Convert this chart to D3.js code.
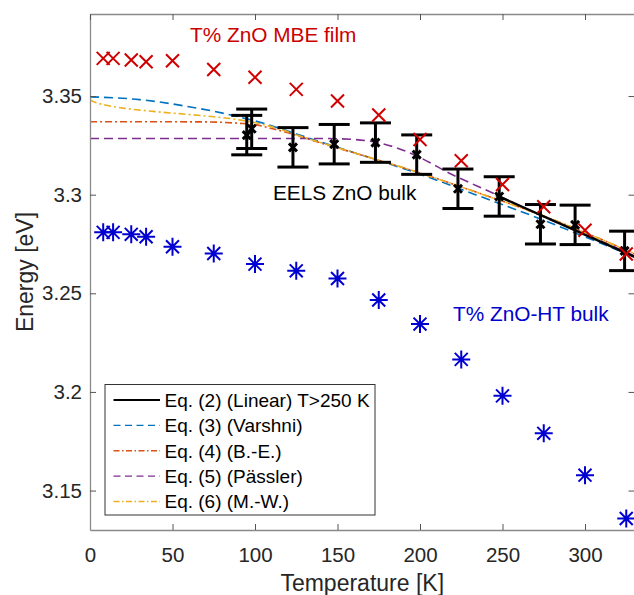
<!DOCTYPE html>
<html>
<head>
<meta charset="utf-8">
<script src="https://cdn.jsdelivr.net/npm/d3@7"></script>
<style>
  body { margin: 0; background: #fff; }
  svg { display: block; font-family: "Liberation Sans", Arial, Helvetica, sans-serif; }
</style>
</head>
<body>
<svg width="634" height="595"></svg>
<script>
// données
let tempMBE = [8, 14, 25, 34, 50, 75, 100, 125, 150, 175, 200, 225, 250, 275, 300, 325];
let energieMBE = [3.3691, 3.3691, 3.3683, 3.3674, 3.3679, 3.3635, 3.3595, 3.3534, 3.3475, 3.3404,
    3.3280, 3.3172, 3.3052, 3.2939, 3.2820, 3.2699];

let tempHT = [8, 14, 25, 34, 50, 75, 100, 125, 150, 175, 200, 225, 250, 275, 300, 325];
let energieHT = [3.2809, 3.2809, 3.2799, 3.2787, 3.2736, 3.2702, 3.2648, 3.2614, 3.2575, 3.2466,
    3.2344, 3.2165, 3.1980, 3.1790, 3.1578, 3.1358];

let tempEELS = [95, 98, 123, 148, 173, 198, 223, 248, 273, 294, 324];
let energieEELS = [3.3302, 3.3334, 3.3240, 3.3256, 3.3264, 3.3203, 3.3030, 3.2991, 3.2850, 3.2847, 3.2715];
let erreurEELS = [0.01, 0.01, 0.01, 0.01, 0.01, 0.01, 0.01, 0.01, 0.01, 0.01, 0.01];

// courbes d'ajustement (points relevés)
let tempLineaire = [246, 330];
let eLineaire = [3.2998, 3.2685];

let tempVarshni = [0, 30, 60, 90, 110, 125, 162, 200, 234, 273, 300, 330];
let eVarshni = [3.3496, 3.3482, 3.3446, 3.3395, 3.3350, 3.3308, 3.3208, 3.3104, 3.2999, 3.2877, 3.2786, 3.2685];

let tempBE = [0, 70, 90, 100, 110, 121, 140, 162, 200, 234, 273, 300, 330];
let eBE = [3.3370, 3.3369, 3.3362, 3.3355, 3.3336, 3.3311, 3.3262, 3.3207, 3.3110, 3.3013, 3.2898, 3.2808, 3.2700];

let tempPassler = [0, 140, 160, 172, 185, 197, 220, 245, 273, 300, 330];
let ePassler = [3.3285, 3.3285, 3.3280, 3.3268, 3.3240, 3.3200, 3.3100, 3.3005, 3.2895, 3.2800, 3.2690];

let tempMW = [0, 4, 10, 20, 40, 70, 90, 110, 130, 162, 200, 234, 273, 300, 330];
let eMW = [3.3480, 3.3466, 3.3453, 3.3439, 3.3421, 3.3399, 3.3380, 3.3345, 3.3290, 3.3208, 3.3110, 3.3013, 3.2898, 3.2808, 3.2700];

let ticksX = [0, 50, 100, 150, 200, 250, 300];
let ticksY = [3.15, 3.2, 3.25, 3.3, 3.35];

let legendes = ["Eq. (2) (Linear) T>250 K", "Eq. (3) (Varshni)", "Eq. (4) (B.-E.)", "Eq. (5) (Pässler)", "Eq. (6) (M.-W.)"];

// I. Entête
let svg = d3.select("svg");

let gauche = 90, droite = 634.5, haut = 14, bas = 530;

let x = d3.scaleLinear().domain([0, 330]).range([gauche, droite]);
let y = d3.scaleLinear().domain([3.13, 3.3916]).range([bas, haut]);

let couleurAxe = "#262626";

// II. Dessin

// clip de la zone du graphe
svg.append("clipPath").attr("id", "zone")
    .append("rect")
    .attr("x", gauche).attr("y", haut)
    .attr("width", droite - gauche).attr("height", bas - haut);

let graphe = svg.append("g").attr("clip-path", "url(#zone)");

let ligne = d3.line().x(d => x(d[0])).y(d => y(d[1])).curve(d3.curveMonotoneX);

let courbes = [
    { t: tempVarshni, e: eVarshni, couleur: "#0072BD", tirets: "9,5", largeur: 1.6 },
    { t: tempBE, e: eBE, couleur: "#D95319", tirets: "7,3,2,3", largeur: 1.6 },
    { t: tempPassler, e: ePassler, couleur: "#7E2F8E", tirets: "9,5", largeur: 1.6 },
    { t: tempMW, e: eMW, couleur: "#EDB120", tirets: "7,3,2,3", largeur: 1.6 },
    { t: tempLineaire, e: eLineaire, couleur: "#000000", tirets: null, largeur: 2.4 }
];

courbes.forEach(function (c) {
    graphe.append("path")
        .datum(d3.zip(c.t, c.e))
        .attr("d", ligne)
        .attr("fill", "none")
        .attr("stroke", c.couleur)
        .attr("stroke-width", c.largeur)
        .attr("stroke-dasharray", c.tirets);
});

// barres d'erreur EELS
let eels = d3.zip(tempEELS, energieEELS, erreurEELS);
let demiCapuchon = 15.5;

let barres = svg.append("g")
    .attr("stroke", "#000")
    .attr("stroke-width", 3)
    .selectAll("g")
    .data(eels)
    .enter()
    .append("g");

barres.append("line")
    .attr("x1", d => x(d[0])).attr("x2", d => x(d[0]))
    .attr("y1", d => y(d[1] + d[2])).attr("y2", d => y(d[1] - d[2]));
barres.append("line")
    .attr("x1", d => x(d[0]) - demiCapuchon).attr("x2", d => x(d[0]) + demiCapuchon)
    .attr("y1", d => y(d[1] + d[2])).attr("y2", d => y(d[1] + d[2]));
barres.append("line")
    .attr("x1", d => x(d[0]) - demiCapuchon).attr("x2", d => x(d[0]) + demiCapuchon)
    .attr("y1", d => y(d[1] - d[2])).attr("y2", d => y(d[1] - d[2]));

// Fonction pour une croix
function croix(r) {
    return "M" + (-r) + "," + (-r) + "L" + r + "," + r + "M" + (-r) + "," + r + "L" + r + "," + (-r);
}

// Fonction pour une étoile
function etoile(r) {
    let d = r * 0.72;
    return "M0," + (-r) + "V" + r + "M" + (-r) + ",0H" + r +
        "M" + (-d) + "," + (-d) + "L" + d + "," + d + "M" + (-d) + "," + d + "L" + d + "," + (-d);
}

svg.append("g").selectAll("path")
    .data(eels)
    .enter()
    .append("path")
    .attr("transform", d => "translate(" + x(d[0]) + "," + y(d[1]) + ")")
    .attr("d", croix(4))
    .attr("stroke", "#000")
    .attr("stroke-width", 3)
    .attr("fill", "none");

svg.append("g").selectAll("path")
    .data(d3.zip(tempMBE, energieMBE))
    .enter()
    .append("path")
    .attr("transform", d => "translate(" + x(d[0]) + "," + y(d[1]) + ")")
    .attr("d", croix(6.5))
    .attr("stroke", "#D00000")
    .attr("stroke-width", 2)
    .attr("fill", "none");

svg.append("g").selectAll("path")
    .data(d3.zip(tempHT, energieHT))
    .enter()
    .append("path")
    .attr("transform", d => "translate(" + x(d[0]) + "," + y(d[1]) + ")")
    .attr("d", etoile(9))
    .attr("stroke", "#0000D0")
    .attr("stroke-width", 2)
    .attr("fill", "none");

// Axes
svg.append("g")
    .attr("transform", "translate(0," + bas + ")")
    .call(d3.axisBottom(x).tickValues(ticksX).tickSizeInner(-6).tickSizeOuter(0).tickPadding(17));

svg.append("g")
    .attr("transform", "translate(" + gauche + ",0)")
    .call(d3.axisLeft(y).tickValues(ticksY).tickFormat(d => String(d)).tickSizeInner(-6).tickSizeOuter(0).tickPadding(8));

svg.append("g")
    .attr("transform", "translate(0," + haut + ")")
    .call(d3.axisTop(x).tickValues(ticksX).tickFormat("").tickSizeInner(-6).tickSizeOuter(0));

svg.append("g")
    .attr("transform", "translate(" + droite + ",0)")
    .call(d3.axisRight(y).tickValues(ticksY).tickFormat("").tickSizeInner(-6).tickSizeOuter(0));

svg.selectAll(".domain").attr("stroke", "#8a8a8a").attr("stroke-width", 1.3);
svg.selectAll(".tick line").attr("stroke", "#555").attr("stroke-width", 1);
svg.selectAll(".tick text")
    .attr("fill", couleurAxe)
    .style("font-size", "20.5px")
    .style("font-family", "'Liberation Sans', Arial, sans-serif");

// Titres des axes
svg.append("text")
    .attr("x", (gauche + droite) / 2)
    .attr("y", 591)
    .attr("text-anchor", "middle")
    .attr("fill", couleurAxe)
    .style("font-size", "23px")
    .text("Temperature [K]");

svg.append("text")
    .attr("transform", "translate(33," + (haut + bas) / 2 + ") rotate(-90)")
    .attr("text-anchor", "middle")
    .attr("fill", couleurAxe)
    .style("font-size", "23px")
    .text("Energy [eV]");

// Annotations
svg.append("text").attr("x", 190).attr("y", 41.5)
    .attr("fill", "#CC0000").style("font-size", "20.8px")
    .text("T% ZnO MBE film");

svg.append("text").attr("x", 273).attr("y", 200)
    .attr("fill", "#000").style("font-size", "20.8px")
    .text("EELS ZnO bulk");

svg.append("text").attr("x", 453).attr("y", 320.5)
    .attr("fill", "#0000CC").style("font-size", "20.8px")
    .text("T% ZnO-HT bulk");

// Légende
let legende = svg.append("g");

legende.append("rect")
    .attr("x", 105).attr("y", 384.5)
    .attr("width", 270).attr("height", 130.5)
    .attr("fill", "#fff")
    .attr("stroke", "#333")
    .attr("stroke-width", 1);

let styleLegende = [courbes[4], courbes[0], courbes[1], courbes[2], courbes[3]];
let yLigne = d3.scaleLinear().domain([0, 4]).range([400, 501.5]);

legendes.forEach(function (texte, i) {
    let c = styleLegende[i];
    legende.append("line")
        .attr("x1", 113.5).attr("x2", 160)
        .attr("y1", yLigne(i)).attr("y2", yLigne(i))
        .attr("stroke", c.couleur)
        .attr("stroke-width", i == 0 ? 2.2 : 1.4)
        .attr("stroke-dasharray", c.tirets ? (c.tirets == "9,5" ? "7,4.5" : "6,2.5,1.5,2.5") : null);
    legende.append("text")
        .attr("x", 164.5)
        .attr("y", yLigne(i) + 6.8)
        .attr("fill", "#000")
        .style("font-size", "19px")
        .text(texte);
});
</script>
</body>
</html>
